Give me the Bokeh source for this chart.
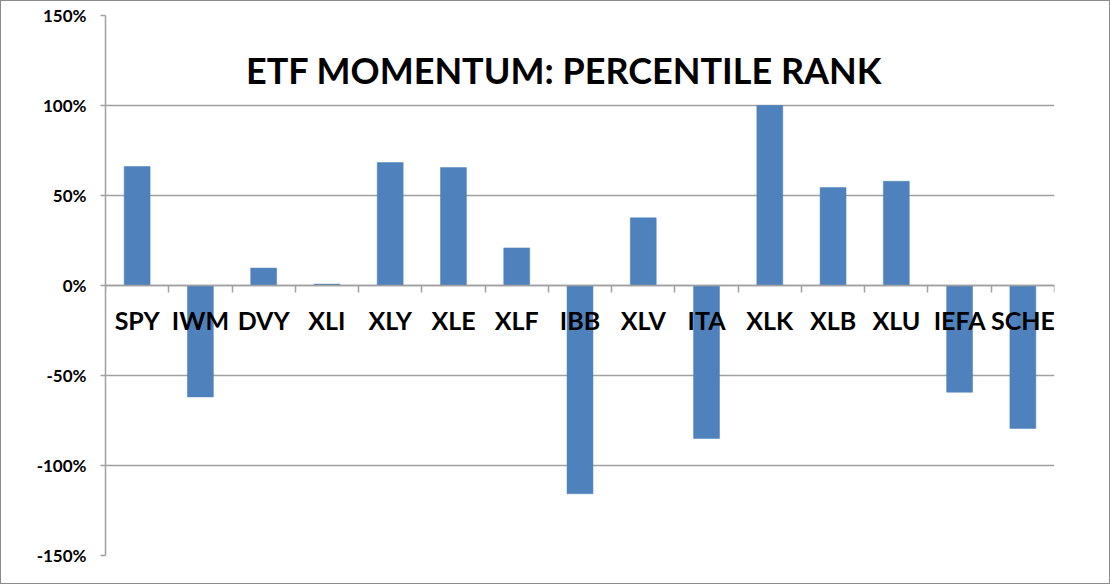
from bokeh.plotting import figure
from bokeh.models import (Range1d, LinearAxis, FixedTicker, NumeralTickFormatter,
                          Label, ColumnDataSource)
from bokeh.embed import file_html
from bokeh.resources import INLINE

# ETF momentum percentile ranks
tickers = ["SPY", "IWM", "DVY", "XLI", "XLY", "XLE", "XLF", "IBB",
           "XLV", "ITA", "XLK", "XLB", "XLU", "IEFA", "SCHE"]
ranks = [0.661, -0.619, 0.097, 0.008, 0.683, 0.655, 0.209, -1.157,
         0.376, -0.850, 1.000, 0.544, 0.579, -0.593, -0.794]
y_ticks = [-1.5, -1.0, -0.5, 0.0, 0.5, 1.0, 1.5]

FONT = "Lato"
GRID = "#a0a0a0"
BAR = "#4f81bd"

n = len(tickers)
centers = [i + 0.5 for i in range(n)]
bounds = list(range(n + 1))

p = figure(width=1110, height=584, output_backend="svg", toolbar_location=None,
           x_range=Range1d(0, n), y_range=Range1d(-1.5, 1.5),
           x_axis_location=None,
           min_border_left=104, min_border_right=57,
           min_border_top=14, min_border_bottom=30)
p.outline_line_color = None
p.background_fill_color = "white"
p.border_fill_color = "white"
p.xgrid.visible = False

# value axis
yax = p.yaxis[0]
yax.ticker = FixedTicker(ticks=y_ticks)
yax.formatter = NumeralTickFormatter(format="0%")
yax.axis_line_color = GRID
yax.axis_line_width = 1.5
yax.major_tick_line_color = GRID
yax.major_tick_line_width = 1.5
yax.major_tick_out = 5
yax.major_tick_in = 0
yax.minor_tick_line_color = None
yax.major_label_text_font = FONT
yax.major_label_text_font_style = "bold"
yax.major_label_text_font_size = "17px"
yax.major_label_text_color = "black"
yax.major_label_standoff = 14

p.ygrid.ticker = FixedTicker(ticks=y_ticks)
p.ygrid.grid_line_color = GRID
p.ygrid.grid_line_width = 1.5

src = ColumnDataSource(dict(x=centers, top=ranks))
p.vbar(x="x", top="top", bottom=0, width=0.41, source=src,
       fill_color=BAR, line_color=BAR, line_width=0.5)

# category axis at zero: boundary ticks
cat_ticks = LinearAxis(fixed_location=0, ticker=FixedTicker(ticks=bounds),
                       major_label_overrides={b: "" for b in bounds})
cat_ticks.axis_line_color = GRID
cat_ticks.axis_line_width = 1.5
cat_ticks.major_tick_line_color = GRID
cat_ticks.major_tick_line_width = 1.5
cat_ticks.major_tick_out = 7
cat_ticks.major_tick_in = 0
cat_ticks.minor_tick_line_color = None
p.add_layout(cat_ticks, "below")

# category names under the zero line
cat_labels = LinearAxis(fixed_location=0, ticker=FixedTicker(ticks=centers),
                        major_label_overrides={c: t for c, t in zip(centers, tickers)})
cat_labels.axis_line_color = None
cat_labels.major_tick_line_color = None
cat_labels.minor_tick_line_color = None
cat_labels.major_label_text_font = FONT
cat_labels.major_label_text_font_style = "bold"
cat_labels.major_label_text_font_size = "25px"
cat_labels.major_label_text_color = "black"
cat_labels.major_label_standoff = 13
p.add_layout(cat_labels, "below")

title = Label(x=7.25, y=1.2, text="ETF MOMENTUM: PERCENTILE RANK",
              text_font=FONT, text_font_style="bold", text_font_size="36px",
              text_color="black", text_align="center", text_baseline="middle")
p.add_layout(title)

p.styles = {"border": "1px solid #8c8c8c", "box-sizing": "border-box"}

open("out.html", "w").write(file_html(p, INLINE))
